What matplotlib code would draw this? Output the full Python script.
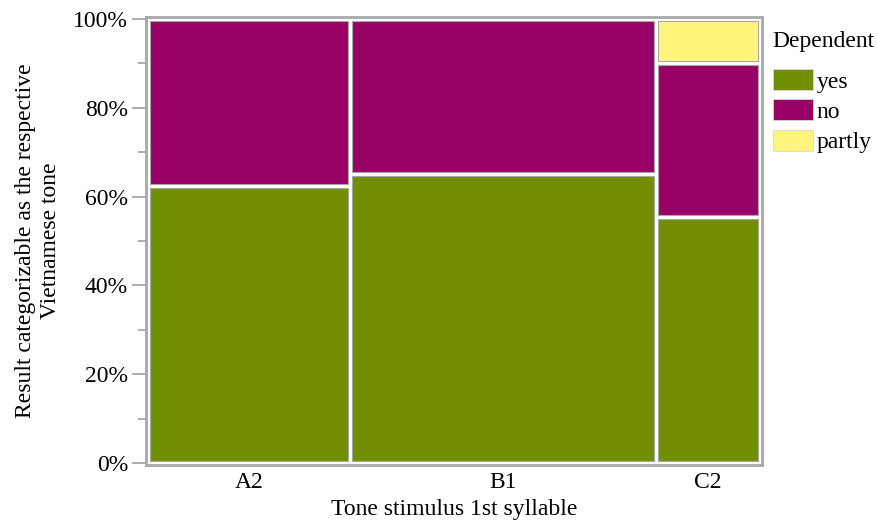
import numpy as np
import matplotlib
matplotlib.use("Agg")
import matplotlib.pyplot as plt
from matplotlib.patches import Patch
from matplotlib.ticker import MultipleLocator, PercentFormatter

plt.rcParams["font.family"] = ["Liberation Serif", "DejaVu Serif"]

# data
stimuli = ["A2", "B1", "C2"]
col_share = [0.33, 0.50, 0.17]          # column widths (share of responses)
levels = ["yes", "no", "partly"]
yes_share = [0.625, 0.65, 0.555]
no_share = [0.375, 0.35, 0.345]
partly_share = [0.0, 0.0, 0.10]
colors = {"yes": "#718f00", "no": "#990066", "partly": "#fff57c"}

shares = {"yes": yes_share, "no": no_share, "partly": partly_share}
FS = 17

fig = plt.figure(figsize=(8.78, 5.24), dpi=100)
ax = fig.add_axes([146/878, 1-465/524, 616/878, 448/524])

gx, gy = 4/612, 4/444     # white gap between tiles (data units)
left = 0.0
centers = []
for i, s in enumerate(stimuli):
    w = col_share[i]
    bottom = 0.0
    for lv in levels:
        h = shares[lv][i]
        if h > 0:
            ax.bar(left + gx/2, h - gy, width=w - gx, bottom=bottom + gy/2,
                   align="edge", color=colors[lv], edgecolor="#a8a8a8", lw=0.8)
        bottom += h
    centers.append(left + w/2)
    left += w

ax.set_xlim(-2/612, 1 + 2/612)
ax.set_ylim(-2/444, 1 + 2/444)
ax.set_xticks(centers)
ax.set_xticklabels(stimuli, fontsize=FS)
ax.tick_params(axis="x", length=0, pad=5)
ax.yaxis.set_major_locator(MultipleLocator(0.2))
ax.yaxis.set_minor_locator(MultipleLocator(0.1))
ax.yaxis.set_major_formatter(PercentFormatter(1.0, decimals=0))
ax.tick_params(axis="y", which="major", length=10, width=1.2, color="#a0a0a0",
               labelsize=FS, pad=3)
ax.tick_params(axis="y", which="minor", length=6, width=1.2, color="#a0a0a0")
for sp in ax.spines.values():
    sp.set_color("#a8a8a8")
    sp.set_linewidth(2)

ax.set_xlabel("Tone stimulus 1st syllable", fontsize=FS, labelpad=4)
ax.set_ylabel("Result categorizable as the respective\nVietnamese tone",
              fontsize=FS, labelpad=9, linespacing=1.25)

# legend: title as separate text so spacing matches
fig.text(772/878, 1 - 42/524, "Dependent", fontsize=FS, ha="left", va="center")
handles = [Patch(facecolor=colors[lv], edgecolor="#d8d8d8", lw=0.6) for lv in levels]
leg = fig.legend(handles, levels, loc="upper left",
                 bbox_to_anchor=(773/878, 1 - 69/524), frameon=False, fontsize=FS,
                 handlelength=1.7, handleheight=1.0,
                 handletextpad=0.15, labelspacing=0.28,
                 borderaxespad=0, borderpad=0)

fig.savefig("out.png", dpi=100)
